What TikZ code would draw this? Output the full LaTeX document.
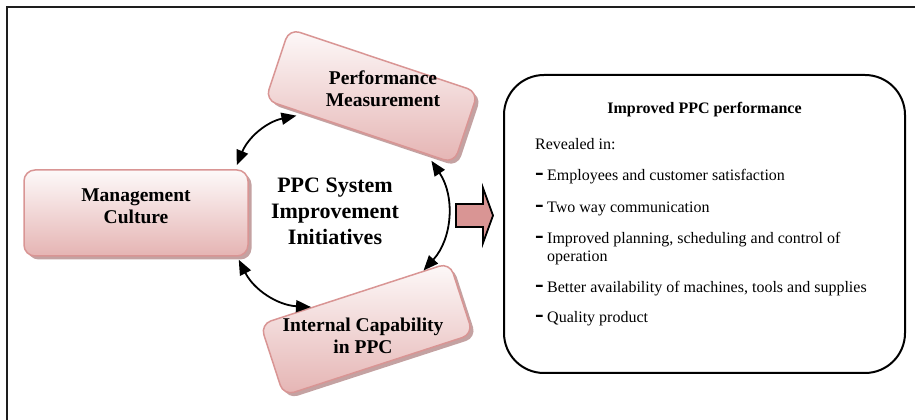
\documentclass[tikz,border=0pt]{standalone}
\usepackage{fontspec}
\setmainfont{Liberation Serif}
\usetikzlibrary{arrows.meta,calc,shadows}
\definecolor{boxedge}{RGB}{217,149,148}
\definecolor{boxtop}{RGB}{253,249,249}
\definecolor{boxbot}{RGB}{229,180,179}
\definecolor{shadowc}{RGB}{196,162,162}
\definecolor{arrowfill}{RGB}{217,149,148}
\definecolor{framec}{RGB}{30,30,30}
\newcommand{\dashmk}{\makebox[12pt][l]{\raisebox{0.6pt}{\fontsize{26}{26}\selectfont\bfseries -}}}
\begin{document}
\begin{tikzpicture}[x=1pt,y=1pt,
  pinkbox/.style={draw=boxedge, line width=1.5pt, rounded corners=11pt,
    top color=boxtop, bottom color=boxbot, inner sep=0pt,
    drop shadow={shadow xshift=3.5pt, shadow yshift=-3.5pt, fill=shadowc, opacity=1}},
  boxtext/.style={font=\bfseries\fontsize{19.5}{22.3}\selectfont, align=center, inner sep=0pt},
  centertext/.style={font=\bfseries\fontsize{22}{25.8}\selectfont, align=center, inner sep=0pt},
  listtext/.style={font=\fontsize{16}{17.7}\selectfont, inner sep=0pt, align=left},
  tipk/.tip={Triangle[length=15pt,width=12pt]},
  link/.style={line width=1.8pt, tipk-tipk}
]
\useasboundingbox (0,0) rectangle (915,420);
% outer frame (only left and top edges visible)
\draw[framec, line width=1.6pt] (7,0) -- (7,413) -- (915,413);

% boxes
\node[pinkbox, minimum width=224pt, minimum height=86pt] (mc) at (136,207) {};
\node[pinkbox, rotate=-18.5, minimum width=199pt, minimum height=75pt] (pm) at (371.7,324) {};
\node[pinkbox, rotate=18, minimum width=199pt, minimum height=75pt] (ic) at (366.7,90.8) {};

% box labels
\node[boxtext] (mct) at (136,213.8) {Management\\Culture};
\node[boxtext] (pmt) at (383,331.3) {Performance\\Measurement};
\node[boxtext] (ict) at (363,84.2) {Internal Capability\\in PPC};
\node[centertext] (ctr) at (335,208.4) {PPC System\\Improvement\\Initiatives};

% connector end points
\coordinate (a1s) at ($(mc.north east)+(-12,4)$);
\coordinate (a1e) at ($(pm.south west)!0.16!(pm.south east)+(1.5,-5)$);
\coordinate (a2s) at ($(pm.south west)!0.87!(pm.south east)+(1.5,-5)$);
\coordinate (a2e) at ($(ic.north west)!0.86!(ic.north east)$);
\coordinate (a3s) at ($(mc.south east)+(-10,-3)$);
\coordinate (a3e) at ($(ic.north west)!0.27!(ic.north east)$);

\draw[link] (a1s) to[bend left=28] (a1e);
\draw[link] (a2s) to[bend left=38] (a2e);
\draw[link] (a3s) to[bend right=30] (a3e);

% block arrow
\draw[line width=1.8pt, fill=arrowfill, line join=miter]
  (456,216) -- (483,216) -- (483,232) -- (493,204.5) -- (483,177) -- (483,193) -- (456,193) -- cycle;

% result box
\node[draw=black, line width=2pt, rounded corners=40pt, minimum width=401pt, minimum height=298pt] (res) at (704.5,196) {};
\node[listtext, font=\bfseries\fontsize{16}{17.7}\selectfont, anchor=base] (title) at (704.5,306.7) {Improved PPC performance};
\node[listtext, anchor=base west] (rev) at (535,270) {Revealed in:};
\node[listtext, anchor=base west] (i1) at (535,239.3) {\dashmk Employees and customer satisfaction};
\node[listtext, anchor=base west] (i2) at (535,207.3) {\dashmk Two way communication};
\node[listtext, anchor=base west] (i3) at (535,158.3) {\dashmk Improved planning, scheduling and control of\\\hspace*{12pt}operation};
\node[listtext, anchor=base west] (i4) at (535,127) {\dashmk Better availability of machines, tools and supplies};
\node[listtext, anchor=base west] (i5) at (535,97) {\dashmk Quality product};
\end{tikzpicture}
\end{document}
